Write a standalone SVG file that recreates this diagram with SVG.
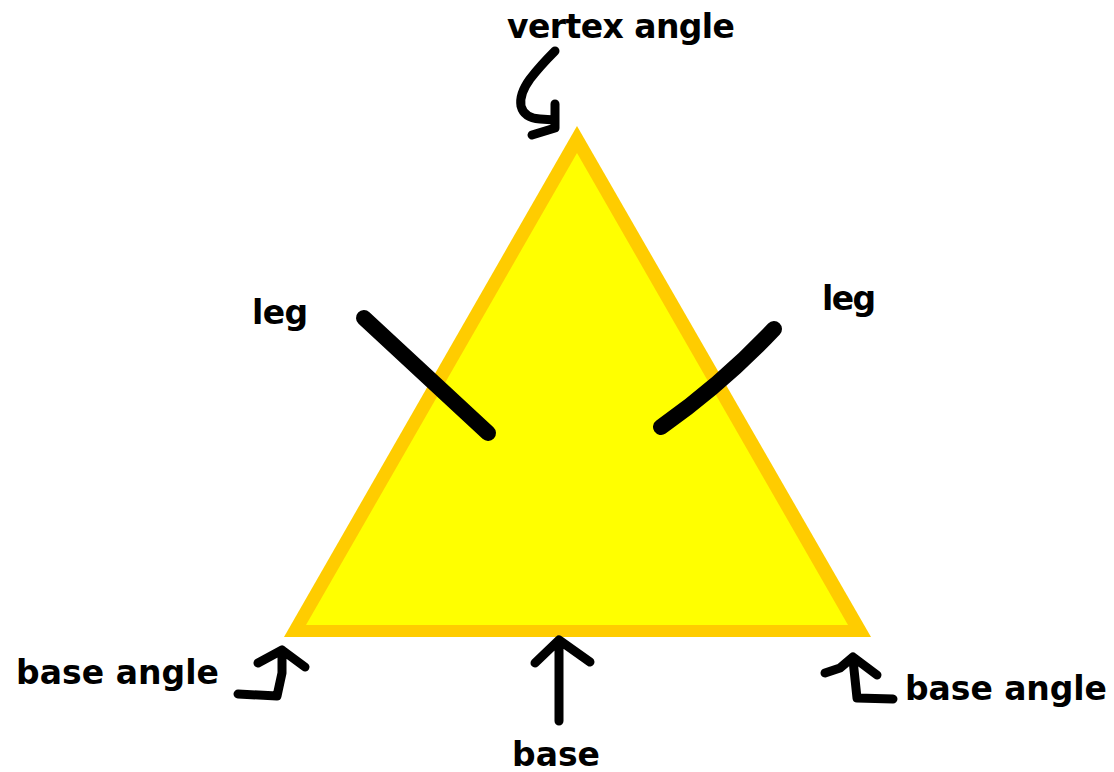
<svg xmlns="http://www.w3.org/2000/svg" width="1114" height="772" viewBox="0 0 1114 772">
  <style>
    .lbl { font-family: "DejaVu Sans", "Liberation Sans", sans-serif; font-weight: bold; font-size: 33px; fill: #000; }
    .arrow { fill: none; stroke: #000; stroke-width: 9; stroke-linecap: round; stroke-linejoin: round; }
    .mark { fill: none; stroke: #000; stroke-width: 16; stroke-linecap: round; stroke-linejoin: round; }
  </style>
  <rect x="0" y="0" width="1114" height="772" fill="#fff"/>
  <g id="triangle">
    <polygon points="577,126 284,637 871,637" fill="#FFCC00"/>
    <polygon points="577,153 306,625 848,625" fill="#FFFF00"/>
  </g>
  <g id="label-vertex-angle"><text class="lbl" x="507" y="38" textLength="228" lengthAdjust="spacing">vertex angle</text></g>
  <g id="label-leg-left"><text class="lbl" x="252" y="324" textLength="56" lengthAdjust="spacing">leg</text></g>
  <g id="label-leg-right"><text class="lbl" x="822" y="310" textLength="54" lengthAdjust="spacing">leg</text></g>
  <g id="label-base-angle-left"><text class="lbl" x="16" y="684" textLength="203" lengthAdjust="spacing">base angle</text></g>
  <g id="label-base-angle-right"><text class="lbl" x="905" y="700" textLength="202" lengthAdjust="spacing">base angle</text></g>
  <g id="label-base"><text class="lbl" x="512" y="766" textLength="88" lengthAdjust="spacing">base</text></g>
  <g id="connectors">
    <path class="arrow" d="M555,51 Q540,66 530,79 Q519,94 521,106 Q524,118 540,119 L555,120 M555,104 L555,128 L532,135"/>
    <path class="arrow" d="M238,694 L277,696 L282,673 L282,650 M258,663 L282,650 L305,667"/>
    <path class="arrow" d="M893,699 L857,698 L853,660 M825,673 L840,668 L853,657 L877,675"/>
    <path class="arrow" d="M559,721 L559,640 M535,663 L559,640 L590,662"/>
    <path class="mark" d="M364,318 L488,433"/>
    <path class="mark" d="M661,427 Q722,384 774,329"/>
  </g>
</svg>
